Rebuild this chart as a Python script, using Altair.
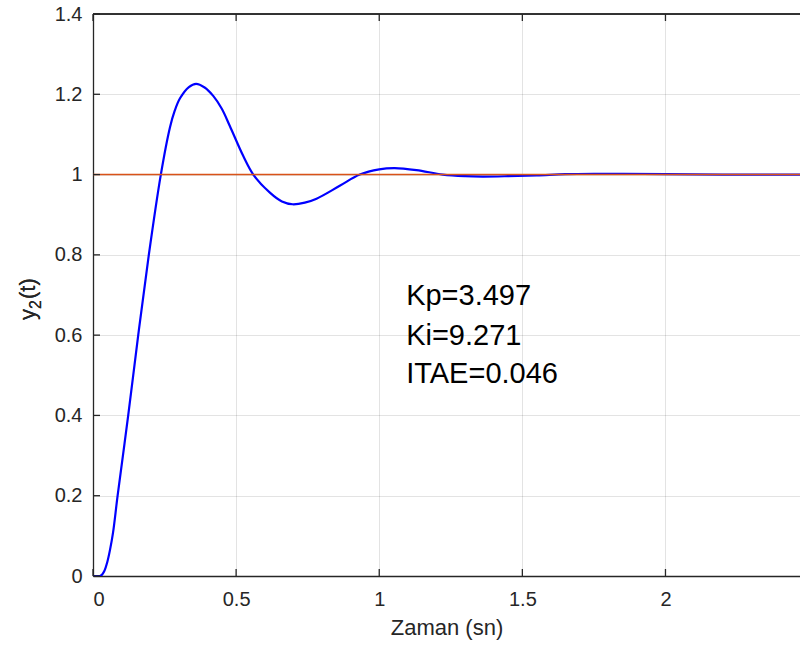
import altair as alt
import pandas as pd

# Step response y2(t) of the PI-controlled loop
t_vals = [0.0, 0.024, 0.030, 0.040, 0.050, 0.0594, 0.070, 0.086, 0.123, 0.158,
          0.195, 0.237, 0.269, 0.285, 0.304, 0.335, 0.360, 0.390, 0.420, 0.450,
          0.478, 0.525, 0.560, 0.618, 0.660, 0.697, 0.740, 0.781, 0.862, 0.932,
          1.000, 1.054, 1.130, 1.222, 1.300, 1.361, 1.450, 1.550, 1.650, 1.750,
          1.850, 2.000, 2.200, 2.470]
y_vals = [0.0, 0.0, 0.002, 0.013, 0.035, 0.065, 0.108, 0.200, 0.400, 0.600,
          0.800, 1.000, 1.118, 1.158, 1.190, 1.218, 1.226, 1.217, 1.196, 1.164,
          1.121, 1.046, 1.000, 0.955, 0.933, 0.926, 0.930, 0.940, 0.972, 1.000,
          1.013, 1.016, 1.011, 1.000, 0.996, 0.995, 0.996, 0.998, 1.001, 1.002,
          1.002, 1.001, 1.000, 1.000]

# Unit step reference
ref_t = [0.0, 2.47]
ref_y = [1.0, 1.0]

# Axis ticks
x_ticks = [0, 0.5, 1, 1.5, 2]
y_ticks = [0, 0.2, 0.4, 0.6, 0.8, 1.0, 1.2, 1.4]

# Annotation lines
ann_lines = ["Kp=3.497", "Ki=9.271", "ITAE=0.046"]
ann_x = [1.094, 1.094, 1.094]
ann_y = [0.675, 0.576, 0.481]

# y-axis title pieces: y, subscript 2, (t)
ytitle_parts = ["y", "2", "(t)"]

W, H = 707, 562
AX = "#262626"
FONT = "Liberation Sans"

resp = pd.DataFrame({"t": t_vals, "y": y_vals})
ref = pd.DataFrame({"t": ref_t, "y": ref_y})
xt = pd.DataFrame({"t": x_ticks})
yt = pd.DataFrame({"y": y_ticks})
ann = pd.DataFrame({"t": ann_x, "y": ann_y, "label": ann_lines})

xscale = alt.Scale(domain=[0, 2.47], nice=False, zero=False)
yscale = alt.Scale(domain=[0, 1.4], nice=False)

xaxis = alt.Axis(values=x_ticks, title="Zaman (sn)", grid=True, ticks=False,
                 labelPadding=13, titlePadding=8, format="~g")
yaxis = alt.Axis(values=y_ticks, title=None, grid=True, ticks=False,
                 labelPadding=11, format="~g")

curve = alt.Chart(resp).mark_line(
    color="#0000FF", strokeWidth=2.2, interpolate="catmull-rom", clip=True
).encode(
    x=alt.X("t:Q", scale=xscale, axis=xaxis),
    y=alt.Y("y:Q", scale=yscale, axis=yaxis),
)

step = alt.Chart(ref).mark_line(color="#D95319", strokeWidth=1.4, clip=True).encode(
    x=alt.X("t:Q", scale=xscale),
    y=alt.Y("y:Q", scale=yscale),
)

top_border = alt.Chart(ref).mark_rule(color=AX, strokeWidth=1.3).encode(
    x=alt.value(0), x2=alt.value(W), y=alt.value(0)
)

bottom_ticks = alt.Chart(xt).mark_rule(color=AX, strokeWidth=1.3).encode(
    x=alt.X("t:Q", scale=xscale), y=alt.value(H), y2=alt.value(H - 7)
)
top_ticks = alt.Chart(xt).mark_rule(color=AX, strokeWidth=1.3).encode(
    x=alt.X("t:Q", scale=xscale), y=alt.value(0), y2=alt.value(7)
)
left_ticks = alt.Chart(yt).mark_rule(color=AX, strokeWidth=1.3).encode(
    y=alt.Y("y:Q", scale=yscale), x=alt.value(0), x2=alt.value(7)
)

labels = alt.Chart(ann).mark_text(
    align="left", baseline="alphabetic", font=FONT, fontSize=29, color="#000000"
).encode(
    x=alt.X("t:Q", scale=xscale),
    y=alt.Y("y:Q", scale=yscale),
    text="label:N",
)

# Rotated y-axis title built from pieces so the subscript sits lowered
def title_piece(text, x, y, size):
    return alt.Chart(ref).mark_text(
        text=text, angle=270, align="left", baseline="alphabetic",
        font=FONT, fontSize=size, color=AX,
    ).encode(x=alt.value(x), y=alt.value(y))

y_main = title_piece(ytitle_parts[0], -58, 306, 22)
y_sub = title_piece(ytitle_parts[1], -52, 295, 16)
y_tail = title_piece(ytitle_parts[2], -58, 285, 22)

chart = alt.layer(
    curve, step, labels, top_border, bottom_ticks, top_ticks, left_ticks,
    y_main, y_sub, y_tail,
).properties(
    width=W, height=H,
    padding={"left": 93, "top": 14, "right": 0, "bottom": 70},
    autosize=alt.AutoSizeParams(type="none"),
    background="#ffffff",
).configure_view(
    stroke=None
).configure_axis(
    domainColor=AX, domainWidth=1.3,
    gridColor=AX, gridOpacity=0.13, gridWidth=1,
    labelFont=FONT, labelFontSize=20, labelColor=AX,
    titleFont=FONT, titleFontSize=22, titleColor=AX, titleFontWeight="normal",
)

chart.save("out.html", embed_options={"renderer": "svg", "actions": False})
